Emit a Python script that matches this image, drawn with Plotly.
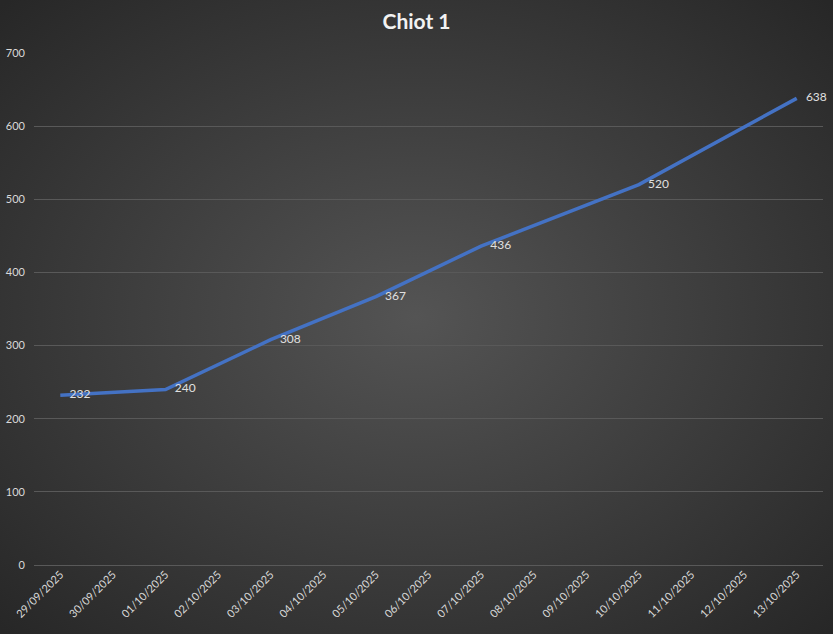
import base64
import pandas as pd
import plotly.graph_objects as go

dates = ["2025-09-29", "2025-10-01", "2025-10-03", "2025-10-05", "2025-10-07", "2025-10-10", "2025-10-13"]
weights = [232, 240, 308, 367, 436, 520, 638]
title_text = "Chiot 1"
y_ticks = [0, 100, 200, 300, 400, 500, 600, 700]

all_days = pd.date_range("2025-09-29", "2025-10-13", freq="D")

svg = """<svg xmlns='http://www.w3.org/2000/svg' width='833' height='634'>
<defs><radialGradient id='g' cx='50%' cy='50%' r='70%'>
<stop offset='0%' stop-color='#545454'/><stop offset='100%' stop-color='#272727'/>
</radialGradient></defs><rect width='833' height='634' fill='url(#g)'/></svg>"""
bg = "data:image/svg+xml;base64," + base64.b64encode(svg.encode()).decode()

L, R, T, B = 34, 10, 53, 69
W, H = 833, 634
pw, ph = W - L - R, H - T - B

fig = go.Figure()
fig.add_trace(go.Scatter(
    x=dates, y=weights, mode="lines+text",
    text=["\u00a0\u00a0\u00a0" + str(v) for v in weights], textposition="middle right",
    textfont=dict(color="#e0e0e0", size=12, family="Lato"),
    line=dict(color="#4472C4", width=3.5),
    hoverinfo="skip", cliponaxis=False,
))

fig.update_layout(
    width=W, height=H,
    paper_bgcolor="#3a3a3a", plot_bgcolor="rgba(0,0,0,0)",
    margin=dict(l=L, r=R, t=T, b=B, autoexpand=False),
    title=dict(text="<b>" + title_text + "</b>", x=0.5, xanchor="center", y=1 - 22 / H, yanchor="middle",
               font=dict(color="#f2f2f2", size=21, family="Lato")),
    showlegend=False,
    images=[dict(source=bg, xref="paper", yref="paper", x=-L / pw, y=1 + T / ph, sizex=W / pw, sizey=H / ph,
                 xanchor="left", yanchor="top", sizing="stretch", layer="below")],
    font=dict(family="Lato", color="#d9d9d9", size=11),
)

fig.update_xaxes(
    type="date", automargin=False,
    range=[all_days[0] - pd.Timedelta(hours=12), all_days[-1] + pd.Timedelta(hours=12)],
    tickvals=list(all_days), ticktext=[d.strftime("%d/%m/%Y") for d in all_days],
    tickangle=-45, showgrid=False, zeroline=False, showline=False, ticks="",
    tickfont=dict(color="#d9d9d9", size=11, family="Lato"),
)
fig.update_yaxes(
    range=[0, 700], tickvals=y_ticks, showgrid=True, gridcolor="#595959", gridwidth=1,
    zeroline=True, zerolinecolor="#595959", zerolinewidth=1, showline=False, ticks="",
    automargin=False,
    tickfont=dict(color="#d9d9d9", size=11, family="Lato"), ticklabelstandoff=8,
)

fig.write_html("out.html", config={"displayModeBar": False})
with open("out.html", encoding="utf-8") as f:
    html = f.read()
html = html.replace("<body>", '<body style="margin:0;padding:0;background:#262626;">', 1)
with open("out.html", "w", encoding="utf-8") as f:
    f.write(html)
